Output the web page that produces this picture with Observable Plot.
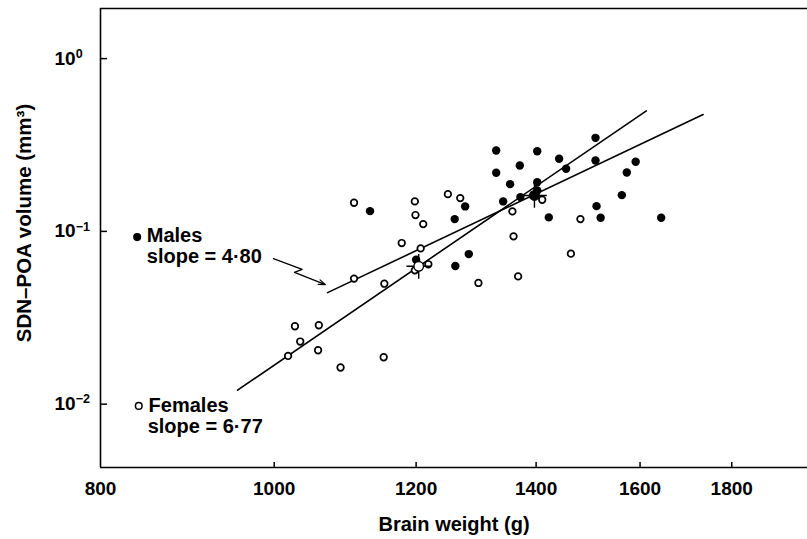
<!DOCTYPE html>
<html><head><meta charset="utf-8">
<script src="https://cdn.jsdelivr.net/npm/d3@7"></script>
<script src="https://cdn.jsdelivr.net/npm/@observablehq/plot@0.6"></script>
<style>
html,body{margin:0;padding:0;background:#fff;}
#chart svg{display:block;}
</style></head><body><div id="chart"></div>
<script>
// ---- data ----
const maleWeight = [1131, 1200, 1261, 1262, 1278, 1284, 1330, 1330, 1342, 1354, 1371, 1372, 1402, 1402, 1402, 1423, 1442, 1455, 1511, 1511, 1513, 1521, 1563, 1573, 1591, 1644];
const maleVolume = [0.131, 0.0686, 0.1178, 0.063, 0.1395, 0.0739, 0.2938, 0.2184, 0.1491, 0.1877, 0.2407, 0.1579, 0.2911, 0.1927, 0.1726, 0.1205, 0.2632, 0.2304, 0.3479, 0.2573, 0.14, 0.12, 0.1621, 0.2193, 0.2529, 0.12];
const femaleWeight = [1018, 1027, 1034, 1058, 1059, 1089, 1108, 1108, 1152, 1151, 1178, 1198, 1199, 1211, 1207, 1219, 1198, 1250, 1270, 1300, 1358, 1360, 1368, 1411, 1464, 1482];
const femaleVolume = [0.01902, 0.02824, 0.02304, 0.02051, 0.02862, 0.0163, 0.1465, 0.0533, 0.0498, 0.01869, 0.0856, 0.1491, 0.1243, 0.1102, 0.0797, 0.0645, 0.0595, 0.1643, 0.1558, 0.0503, 0.1305, 0.0936, 0.0549, 0.1525, 0.0743, 0.1178];
const meanWeight = [1397, 1204];
const meanVolume = [0.1614, 0.0628];
const fitSex = ["Female", "Female", "Male", "Male"];
const fitWeight = [954, 1613, 1071, 1735];
const fitVolume = [0.01205, 0.4985, 0.04421, 0.4745];
const xTicks = [800, 1000, 1200, 1400, 1600, 1800];
const xTickLabels = ["800", "1000", "1200", "1400", "1600", "1800"];
const yTicks = [1, 0.1, 0.01];
const yTickLabels = ["10^0", "10^-1", "10^-2"];
const xDomain = [800, 1984];
const yDomain = [0.0043, 1.95];
const legendText = ["Males", "slope = 4·80", "Females", "slope = 6·77"];
const legendX = [849, 849, 851, 850];
const legendY = [0.0948, 0.0712, 0.00987, 0.00746];
const legendDotX = [838.6, 840.3];
const legendDotY = [0.0927, 0.00977];
const legendDotFill = ["black", "white"];
const arrowX = [999, 1036.6, 1026.4, 1068];
const arrowY = [0.0696, 0.0603, 0.0579, 0.0492];

// ---- build tables ----
const males = maleWeight.map((w, i) => ({w, v: maleVolume[i]}));
const females = femaleWeight.map((w, i) => ({w, v: femaleVolume[i]}));
const means = meanWeight.map((w, i) => ({w, v: meanVolume[i], fill: i === 0 ? "black" : "white"}));
const fits = fitWeight.map((w, i) => ({w, v: fitVolume[i], s: fitSex[i]}));
const legend = legendText.map((t, i) => ({t, w: legendX[i], v: legendY[i]}));
const legendDots = legendDotX.map((w, i) => ({w, v: legendDotY[i], fill: legendDotFill[i]}));
const arrowPts = arrowX.map((w, i) => ({w, v: arrowY[i]}));
const xLabels = xTicks.map((w, i) => ({w, t: xTickLabels[i]}));
const n = arrowPts.length;

const W = 807, H = 539, mL = 100, mR = 0, mT = 8, mB = 72;
const plotW = W - mL - mR, plotH = H - mT - mB;
const font = "'Liberation Sans', Arial, Helvetica, sans-serif";

const chart = Plot.plot({
  width: W, height: H,
  marginLeft: mL, marginRight: mR, marginTop: mT, marginBottom: mB,
  style: {fontFamily: font, fontWeight: "bold", fontSize: "19px", color: "#000", background: "#fff", overflow: "visible"},
  x: {type: "log", domain: xDomain, label: null, axis: null},
  y: {type: "log", domain: yDomain, label: null},
  marks: [
    // frame (left, top, bottom)
    Plot.ruleX([xDomain[0]], {stroke: "#000", strokeWidth: 1.6}),
    Plot.ruleY(yDomain, {stroke: "#000", strokeWidth: 1.6}),
    // inward ticks
    Plot.ruleX(xTicks.slice(1), {y1: yDomain[1], y2: yDomain[0], insetTop: plotH - 5, stroke: "#000", strokeWidth: 1.5}),
    Plot.ruleY(yTicks, {x1: xDomain[0], x2: xDomain[1], insetRight: plotW - 7, stroke: "#000", strokeWidth: 1.5}),
    // tick labels
    Plot.text(xLabels, {x: "w", text: "t", frameAnchor: "bottom", textAnchor: "middle", lineAnchor: "middle", dy: 21, fontSize: 19, fontWeight: "bold"}),
    Plot.axisY(yTicks, {anchor: "left", tickSize: 0, tickPadding: 46, textAnchor: "start", tickFormat: d => yTickLabels[yTicks.indexOf(d)], label: null, fontSize: 19, fontWeight: "bold"}),
    // axis titles
    Plot.text(["Brain weight (g)"], {frameAnchor: "bottom", textAnchor: "middle", dy: 57, lineAnchor: "middle", fontSize: 20, fontWeight: "bold"}),
    Plot.text(["SDN–POA volume (mm³)"], {frameAnchor: "left", textAnchor: "middle", dx: -76, dy: -15, rotate: -90, lineAnchor: "middle", fontSize: 20.5, fontWeight: "bold"}),
    // regression lines
    Plot.line(fits, {x: "w", y: "v", z: "s", stroke: "#000", strokeWidth: 1.6}),
    // annotation arrow
    Plot.line(arrowPts.slice(0, n - 1), {x: "w", y: "v", stroke: "#000", strokeWidth: 1.2}),
    Plot.arrow([{x1: arrowPts[n - 2].w, y1: arrowPts[n - 2].v, x2: arrowPts[n - 1].w, y2: arrowPts[n - 1].v}], {x1: "x1", y1: "y1", x2: "x2", y2: "y2", stroke: "#000", strokeWidth: 1.2, headLength: 9, headAngle: 40}),
    // points
    Plot.dot(females, {x: "w", y: "v", r: 3.3, fill: "white", stroke: "#000", strokeWidth: 1.7}),
    Plot.dot(males, {x: "w", y: "v", r: 4.2, fill: "#000", stroke: "none"}),
    // means
    Plot.dot(means, {x: "w", y: "v", symbol: "plus", r: 8, stroke: "#000", strokeWidth: 1.4}),
    Plot.dot(means, {x: "w", y: "v", r: 4.8, fill: "fill", stroke: "#000", strokeWidth: 1.4}),
    // legend
    Plot.dot(legendDots, {x: "w", y: "v", r: 3.3, fill: "fill", stroke: "#000", strokeWidth: 1.5}),
    Plot.text(legend, {x: "w", y: "v", text: "t", textAnchor: "start", lineAnchor: "middle", fontSize: 20, fontWeight: "bold"})
  ]
});

// superscript exponents on the y tick labels
d3.select(chart).selectAll("text").each(function () {
  const m = this.textContent.match(/^10\^(-?\d+)$/);
  if (m) {
    const sel = d3.select(this);
    sel.text("");
    sel.append("tspan").text("10");
    sel.append("tspan").attr("dy", "-0.55em").attr("font-size", "0.66em").text(m[1].replace("-", "−"));
  }
});

document.getElementById("chart").appendChild(chart);
</script>
</body></html>
